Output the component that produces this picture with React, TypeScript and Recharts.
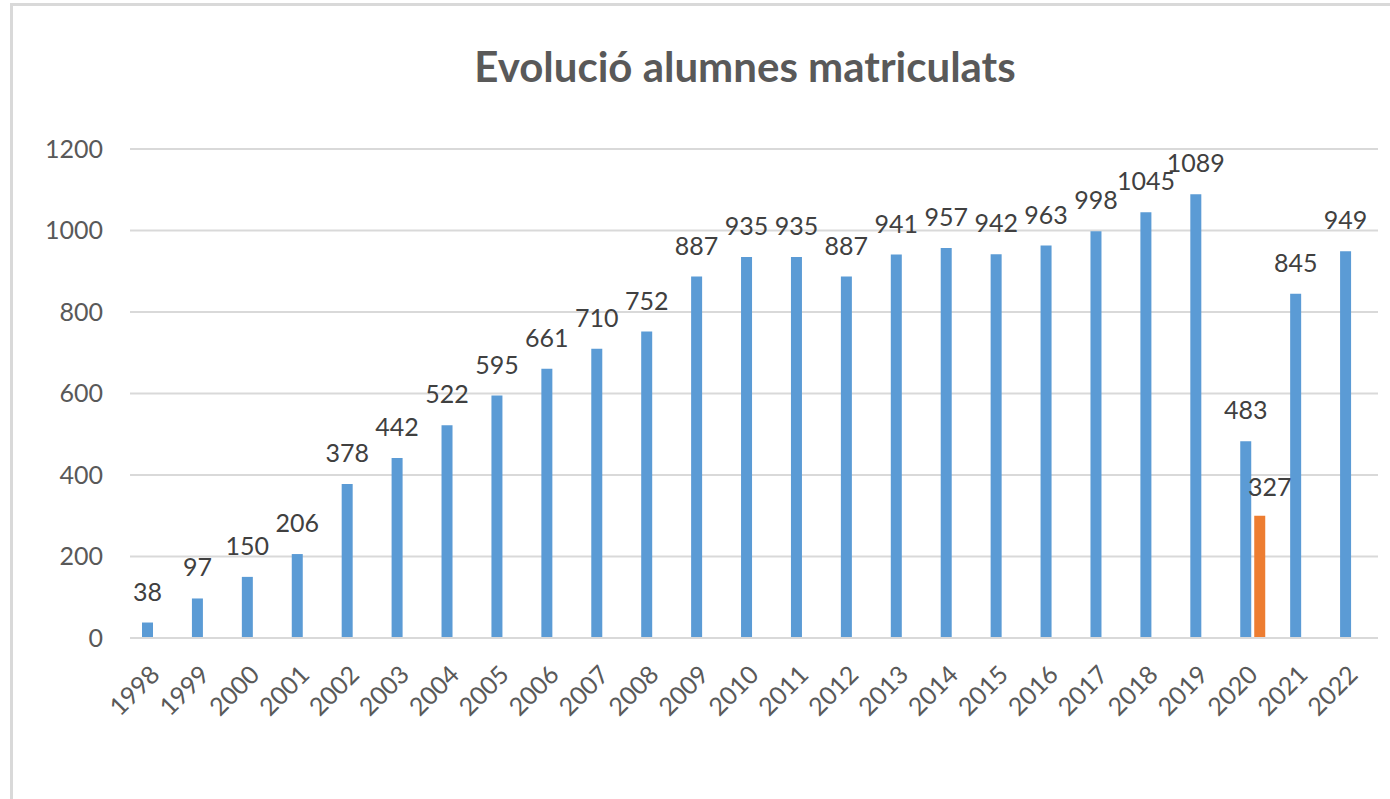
import React from 'react';
import { BarChart, Bar, XAxis, YAxis, CartesianGrid, LabelList } from 'recharts';

const YEARS = [
  '1998', '1999', '2000', '2001', '2002', '2003', '2004', '2005', '2006', '2007',
  '2008', '2009', '2010', '2011', '2012', '2013', '2014', '2015', '2016', '2017',
  '2018', '2019', '2020', '2021', '2022',
];

const ENROLLED = [
  38, 97, 150, 206, 378, 442, 522, 595, 661, 710,
  752, 887, 935, 935, 887, 941, 957, 942, 963, 998,
  1045, 1089, 483, 845, 949,
];

// second series only has a value for 2020 (bar drawn at ~300, labelled 327)
const SECOND: (number | null)[] = YEARS.map((y) => (y === '2020' ? 300 : null));
const SECOND_LABELS: (string | null)[] = YEARS.map((y) => (y === '2020' ? '327' : null));

const Y_TICKS = [0, 200, 400, 600, 800, 1000, 1200];

const FONT = 'Lato, "Open Sans", sans-serif';
const AXIS_TEXT = '#595959';
const LABEL_TEXT = '#404040';

const data = YEARS.map((year, i) => ({
  year,
  enrolled: ENROLLED[i],
  second: SECOND[i],
  secondLabel: SECOND_LABELS[i],
}));

const YearTick = (props: any) => {
  const { x, y, payload } = props;
  return (
    <g transform={`translate(${x},${y})`}>
      <text
        textAnchor="end"
        transform="rotate(-45)"
        dy="0.35em"
        fill={AXIS_TEXT}
        fontSize={25}
        fontFamily={FONT}
      >
        {payload.value}
      </text>
    </g>
  );
};

const BarLabel = (props: any) => {
  const { x, y, width, value, dx = 0, lift = 22 } = props;
  if (value == null || value === '') return null;
  return (
    <text
      x={Number(x) + Number(width) / 2 + dx}
      y={Number(y) - lift}
      textAnchor="middle"
      fill={LABEL_TEXT}
      fontSize={25}
      fontFamily={FONT}
    >
      {value}
    </text>
  );
};

export default function App() {
  return (
    <div style={{ position: 'absolute', left: 0, top: 0, width: 1390, height: 799, overflow: 'hidden', background: '#fff' }}>
      <div
        style={{
          position: 'absolute',
          left: 10,
          top: 3,
          width: 1400,
          height: 820,
          borderTop: '3px solid #d9d9d9',
          borderLeft: '3px solid #d9d9d9',
        }}
      />
      <div style={{ position: 'absolute', left: 0, top: 0 }}>
        <BarChart
          width={1390}
          height={799}
          data={data}
          margin={{ top: 149, right: 12, bottom: 61, left: 0 }}
          barSize={11}
          barGap={3}
        >
          <text
            x={745}
            y={82}
            textAnchor="middle"
            fill={AXIS_TEXT}
            fontSize={42}
            fontWeight="bold"
            fontFamily={FONT}
          >
            Evolució alumnes matriculats
          </text>
          <CartesianGrid horizontal vertical={false} stroke="#d9d9d9" strokeWidth={2} />
          <XAxis
            dataKey="year"
            height={100}
            tickSize={0}
            tickMargin={32}
            tickLine={false}
            axisLine={{ stroke: '#d9d9d9', strokeWidth: 2 }}
            tick={<YearTick />}
            interval={0}
          />
          <YAxis
            width={130}
            domain={[0, 1200]}
            ticks={Y_TICKS}
            tickSize={0}
            tickMargin={27}
            tickLine={false}
            axisLine={false}
            tick={{ fill: AXIS_TEXT, fontSize: 25, fontFamily: FONT }}
          />
          <Bar dataKey="enrolled" fill="#5b9bd5" isAnimationActive={false}>
            <LabelList dataKey="enrolled" content={<BarLabel />} />
          </Bar>
          <Bar dataKey="second" fill="#ed7d31" isAnimationActive={false}>
            <LabelList dataKey="secondLabel" content={<BarLabel dx={10} lift={20} />} />
          </Bar>
        </BarChart>
      </div>
    </div>
  );
}
